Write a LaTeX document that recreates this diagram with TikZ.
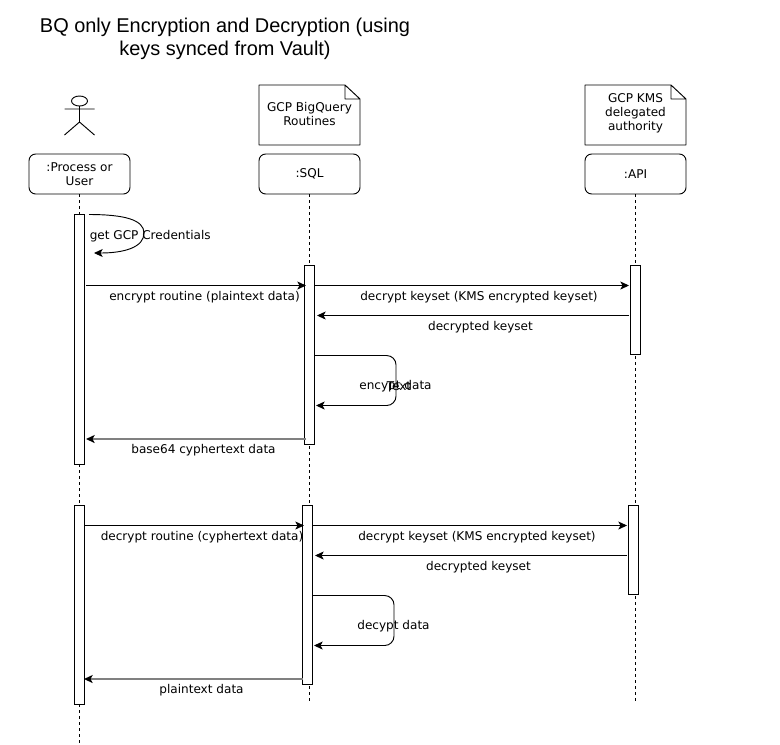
\documentclass[tikz,border=0pt]{standalone}
\usepackage{fontspec}
\setmainfont{DejaVu Sans}
\newfontfamily\titlefont{Liberation Sans}
\usetikzlibrary{arrows.meta}
\newcommand{\boxtext}[1]{\raisebox{-1.1pt}{#1}}
\tikzset{
  x=0.75pt,y=-0.75pt,
  every node/.style={font=\fontsize{9.05pt}{10.5pt}\selectfont,align=center,inner sep=0pt},
  lifebox/.style={draw,rounded corners=5pt,minimum width=75.75pt,minimum height=30pt,line width=0.7pt,fill=white},
  lifeline/.style={dash pattern=on 2.25pt off 2.25pt,line width=0.7pt},
  actbar/.style={draw,fill=white,line width=0.7pt,minimum width=7.75pt},
  msg/.style={-{Stealth[length=6.5pt,width=6pt,inset=1.6pt]},line width=0.7pt},
  retmsg/.style={-{Stealth[length=6.5pt,width=6pt,inset=1.6pt,color=black]},line width=1.1pt,draw=black!50},
  notepath/.style={draw,line width=0.7pt,fill=white,line join=round}
}
\begin{document}
\begin{tikzpicture}
\useasboundingbox (0,0) rectangle (780,744);
% title
\node[font=\titlefont\fontsize{14.95pt}{17.3pt}\selectfont] (title) at (225,38.5) {BQ only Encryption and Decryption (using\\keys synced from Vault)};
% notes
\draw[notepath] (259,85) -- (345,85) -- (360,99) -- (360,145) -- (259,145) -- cycle (345,85) -- (345,99) -- (360,99);
\node (n1) at (309.5,113.5) {GCP BigQuery\\Routines};
\draw[notepath] (585,85) -- (671,85) -- (686,99) -- (686,145) -- (585,145) -- cycle (671,85) -- (671,99) -- (686,99);
\node (n2) at (635.5,113) {GCP KMS\\delegated\\authority};
% actor
\draw[line width=0.7pt] (79.5,101) ellipse (8 and 5);
\draw[line width=0.7pt] (64.5,109) -- (94.5,109) (79.5,106) -- (79.5,122) (64.5,135) -- (79.5,122) -- (94.5,135);
% lifeboxes
\node[lifebox] (p) at (79.5,174) {\boxtext{:Process or}\\\boxtext{User}};
\node[lifebox] (s) at (309.5,174) {\boxtext{:SQL}};
\node[lifebox] (a) at (635.5,174) {\boxtext{:API}};
% lifeline ends
\coordinate (pe) at (79.5,744);
\coordinate (se) at (309.5,702);
\coordinate (ae) at (635.5,702);
\draw[lifeline] (p.south) -- (pe);
\draw[lifeline] (s.south) -- (se);
\draw[lifeline] (a.south) -- (ae);
% activations
\node[actbar,minimum height=187.5pt] (pa1) at (79.5,339) {};
\node[actbar,minimum height=149.25pt] (pa2) at (79.5,604.5) {};
\node[actbar,minimum height=134.25pt] (sa1) at (309.5,354.5) {};
\node[actbar,minimum height=134.25pt] (sa2) at (307.5,594.5) {};
\node[actbar,minimum height=66.75pt] (aa1) at (635.5,309.5) {};
\node[actbar,minimum height=66.75pt] (aa2) at (633.5,549.5) {};
% self call 1
\coordinate (c1a) at (89,214.5);
\coordinate (c1b) at (94,253);
\draw[msg] (c1a) .. controls (125,214.5) and (144,220) .. (144,233) .. controls (144,247) and (125,253) .. (c1b);
\node[anchor=west] (l1) at (89.5,236) {get GCP Credentials};
% messages
\coordinate (m1a) at (86,285.5); \coordinate (m1b) at (306,285.5);
\draw[msg] (m1a) -- (m1b);
\node (l2) at (204.5,297) {encrypt routine (plaintext data)};
\coordinate (m2a) at (315,285.5); \coordinate (m2b) at (629,285.5);
\draw[msg] (m2a) -- (m2b);
\node (l3) at (479,297) {decrypt keyset (KMS encrypted keyset)};
\coordinate (m3a) at (629,315.5); \coordinate (m3b) at (317,315.5);
\draw[msg] (m3a) -- (m3b);
\node (l4) at (480.5,327) {decrypted keyset};
\coordinate (m4a) at (315,355.5); \coordinate (m4b) at (316,405.5);
\draw[msg,rounded corners=7pt] (m4a) -- (396,355.5) -- (396,405.5) -- (m4b);
\node (l5) at (395.5,386.5) {encypt data};
\node (l5b) at (399,386.5) {Text};
\coordinate (m5a) at (306,439); \coordinate (m5b) at (86,439);
\draw[retmsg] (m5a) -- (m5b);
\node (l6) at (203.5,450) {base64 cyphertext data};
\coordinate (m6a) at (85,525.5); \coordinate (m6b) at (304,525.5);
\draw[msg] (m6a) -- (m6b);
\node (l7) at (202,537) {decrypt routine (cyphertext data)};
\coordinate (m7a) at (313,525.5); \coordinate (m7b) at (627,525.5);
\draw[msg] (m7a) -- (m7b);
\node (l8) at (477,537) {decrypt keyset (KMS encrypted keyset)};
\coordinate (m8a) at (627,555.5); \coordinate (m8b) at (315,555.5);
\draw[msg] (m8a) -- (m8b);
\node (l9) at (478.5,567) {decrypted keyset};
\coordinate (m9a) at (313,595.5); \coordinate (m9b) at (314,645.5);
\draw[msg,rounded corners=7pt] (m9a) -- (394,595.5) -- (394,645.5) -- (m9b);
\node (l10) at (393.5,626.5) {decypt data};
\coordinate (m10a) at (303,679); \coordinate (m10b) at (84,679);
\draw[retmsg] (m10a) -- (m10b);
\node (l11) at (201.5,690) {plaintext data};
\end{tikzpicture}
\end{document}
